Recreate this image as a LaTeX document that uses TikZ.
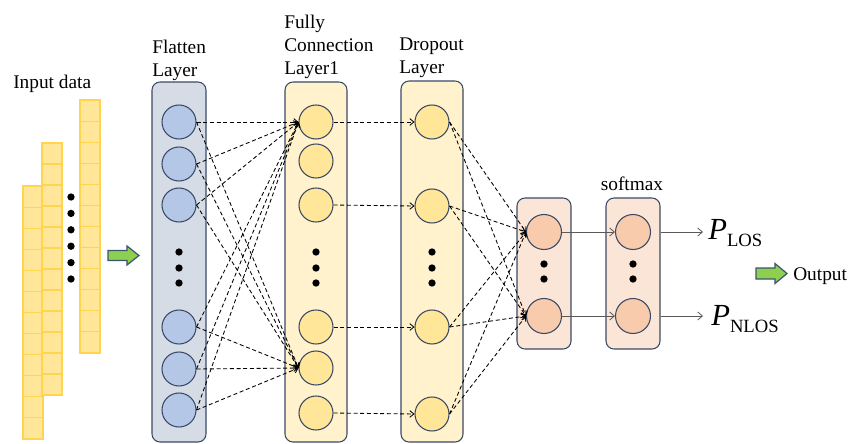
\documentclass[tikz,border=0pt]{standalone}
\usepackage{fontspec}
\setmainfont{Liberation Serif}
\usetikzlibrary{arrows.meta}
\definecolor{edgeblue}{HTML}{3B4A66}
\definecolor{flatbox}{HTML}{D6DCE5}
\definecolor{flatnode}{HTML}{B4C7E7}
\definecolor{ybox}{HTML}{FFF2CC}
\definecolor{ynode}{HTML}{FFE699}
\definecolor{obox}{HTML}{FBE5D6}
\definecolor{onode}{HTML}{F8CBAD}
\definecolor{cellfill}{HTML}{FFE699}
\definecolor{celledge}{HTML}{FFD54F}
\definecolor{garrow}{HTML}{8FCF4F}
\definecolor{garrowedge}{HTML}{3A5570}
\definecolor{solidgray}{HTML}{595959}
\begin{document}
\begin{tikzpicture}[x=0.75pt,y=-0.75pt,
  layerbox/.style={draw=edgeblue,line width=0.8pt,rounded corners=6pt,inner sep=0pt},
  neuron/.style={circle,draw=edgeblue,line width=0.8pt,minimum size=25.5pt,inner sep=0pt},
  bdot/.style={circle,fill=black,minimum size=5.5pt,inner sep=0pt},
  cell/.style={draw=celledge,fill=cellfill,line width=0.8pt},
  dashconn/.style={draw=black,line width=0.65pt,dash pattern=on 3pt off 2pt,-{Straight Barb[length=3pt,width=5pt]}},
  solidconn/.style={draw=solidgray,line width=0.6pt,-{Straight Barb[length=3.5pt,width=6pt]}},
  greenarrow/.style={draw=garrowedge,fill=garrow,line width=0.9pt,line join=miter},
  lbl/.style={font=\fontsize{14.5}{17}\selectfont,align=left,inner sep=0pt,anchor=base west},
  bigp/.style={inner sep=0pt,anchor=base west}
]
\useasboundingbox (0,0) rectangle (852,443);

% ---------- input data ----------
\node[lbl] (inlabel) at (13,88) {Input data};
\foreach \k in {0,...,11} {
  \draw[cell] (23,186+21.08*\k) rectangle ++(20,21.08);
}
\foreach \k in {0,...,11} {
  \draw[cell] (42,143+21*\k) rectangle ++(20,21);
}
\foreach \k in {0,...,11} {
  \draw[cell] (80,100+21.08*\k) rectangle ++(20,21.08);
}
\foreach \k [count=\n] in {0,...,5} {
  \node[bdot] (idot\n) at (71,197+16.4*\k) {};
}
\draw[greenarrow] (108,250.5) -- (127,250.5) -- (127,246) -- (139,255.5) -- (127,265) -- (127,260.5) -- (108,260.5) -- cycle;

% ---------- boxes ----------
\node[layerbox,fill=flatbox,minimum width=40.5pt,minimum height=270pt] (fbox) at (179,262) {};
\node[layerbox,fill=ybox,minimum width=46.5pt,minimum height=270pt] (cbox) at (316,262) {};
\node[layerbox,fill=ybox,minimum width=46.5pt,minimum height=270.75pt] (dbox) at (432,261.5) {};
\node[layerbox,fill=obox,minimum width=40.5pt,minimum height=113.25pt] (hbox) at (544,273.5) {};
\node[layerbox,fill=obox,minimum width=40.5pt,minimum height=113.25pt] (sbox) at (633,273.5) {};

% ---------- labels (anchor = baseline of last line) ----------
\node[lbl] (flab) at (152,76) {Flatten\\Layer};
\node[lbl] (clab) at (284,74) {Fully\\Connection\\Layer1};
\node[lbl] (dlab) at (399,73) {Dropout\\Layer};
\node[lbl,anchor=base] (slab) at (632,190) {softmax};

% ---------- neurons ----------
\foreach \y [count=\i] in {122,164,205,327,369,410} {
  \node[neuron,fill=flatnode] (f\i) at (179,\y) {};
}
\foreach \y [count=\i] in {122,161,205,327,368,413} {
  \node[neuron,fill=ynode] (c\i) at (316,\y) {};
}
\foreach \y [count=\i] in {122,206,327,414} {
  \node[neuron,fill=ynode] (d\i) at (432,\y) {};
}
\node[neuron,fill=onode,minimum size=26.25pt] (h1) at (544,232) {};
\node[neuron,fill=onode,minimum size=26.25pt] (h2) at (544,316) {};
\node[neuron,fill=onode,minimum size=26.25pt] (s1) at (633,232) {};
\node[neuron,fill=onode,minimum size=26.25pt] (s2) at (633,316) {};

% ---------- dots ----------
\foreach \y [count=\i] in {252,268,283} {
  \node[bdot] (fdot\i) at (179,\y) {};
  \node[bdot] (cdot\i) at (316,\y) {};
  \node[bdot] (ddot\i) at (432,\y) {};
}
\foreach \y [count=\i] in {264,279} {
  \node[bdot] (hdot\i) at (544,\y) {};
  \node[bdot] (sdot\i) at (633,\y) {};
}

% ---------- connectors ----------
\foreach \i in {1,...,6} {
  \draw[dashconn] (f\i.east) -- (c1.west);
  \draw[dashconn] (f\i.east) -- (c5.west);
}
\draw[dashconn] (c1.east) -- (d1.west);
\draw[dashconn] (c3.east) -- (d2.west);
\draw[dashconn] (c4.east) -- (d3.west);
\draw[dashconn] (c6.east) -- (d4.west);
\foreach \i in {1,...,4} {
  \draw[dashconn] (d\i.east) -- (h1.west);
  \draw[dashconn] (d\i.east) -- (h2.west);
}
\draw[solidconn] (h1.east) -- (s1.west);
\draw[solidconn] (h2.east) -- (s2.west);

\coordinate (o1) at (703,232);
\coordinate (o2) at (703,316);
\draw[solidconn] (sbox.east |- s1) -- (o1);
\draw[solidconn] (sbox.east |- s2) -- (o2);

% ---------- outputs ----------
\node[bigp] (plos) at (708,239) {{\fontsize{23}{23}\selectfont\itshape P}\raisebox{-5.6pt}{\fontsize{14}{14}\selectfont LOS}};
\node[bigp] (pnlos) at (711,325) {{\fontsize{23}{23}\selectfont\itshape P}\raisebox{-5.6pt}{\fontsize{14}{14}\selectfont NLOS}};

\draw[greenarrow] (756,268) -- (775,268) -- (775,263.5) -- (787,273.5) -- (775,283.5) -- (775,279) -- (756,279) -- cycle;
\node[lbl] (outlab) at (793,280) {Output};
\end{tikzpicture}
\end{document}
